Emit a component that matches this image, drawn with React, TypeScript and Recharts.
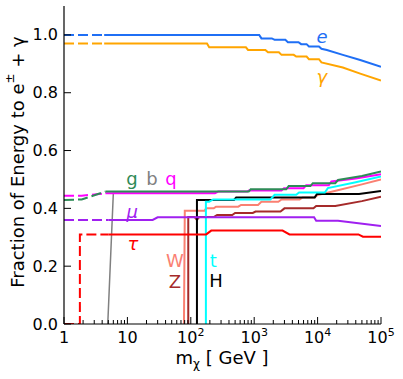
import React from 'react';
import { LineChart, Line, XAxis, YAxis, ReferenceDot, Label } from 'recharts';

const FONT = '"DejaVu Sans", sans-serif';

const X_MAJOR = [1, 10, 100, 1000, 10000, 100000];
const X_MINOR = X_MAJOR.slice(0, -1).flatMap(d => [2, 3, 4, 5, 6, 7, 8, 9].map(k => d * k));
const X_TICKS = [...X_MAJOR, ...X_MINOR].sort((a, b) => a - b);
const Y_TICKS = [0, 0.2, 0.4, 0.6, 0.8, 1.0];

// [m_chi (GeV), fraction of energy]
const E_DASH = [[1, 1.0], [4.3, 1.0]];
const E_SOLID = [[4.3, 1.0], [1200, 1.0], [1300, 0.988], [1900, 0.988], [2100, 0.983], [3100, 0.983], [3400, 0.975], [5000, 0.975], [5500, 0.968], [6700, 0.968], [7300, 0.96], [10500, 0.96], [11500, 0.952], [14000, 0.948], [25000, 0.931], [47000, 0.913], [100000, 0.89]];
const G_DASH = [[1, 0.97], [4.3, 0.97]];
const G_SOLID = [[4.3, 0.97], [180, 0.97], [195, 0.957], [740, 0.957], [800, 0.948], [1500, 0.948], [1650, 0.94], [2450, 0.94], [2700, 0.931], [4200, 0.931], [4600, 0.925], [6700, 0.925], [7300, 0.916], [10500, 0.916], [11500, 0.905], [25000, 0.887], [47000, 0.866], [100000, 0.842]];
const GLU_DASH = [[1, 0.429], [1.9, 0.431], [4.5, 0.458]];
const GLU_SOLID = [[4.5, 0.458], [820, 0.458], [880, 0.466], [3200, 0.466], [3500, 0.477], [7700, 0.477], [8400, 0.487], [19000, 0.487], [21000, 0.498], [50000, 0.512], [100000, 0.528]];
const Q_DASH = [[1, 0.444], [1.9, 0.444], [4.5, 0.452]];
const Q_SOLID = [[4.5, 0.452], [240, 0.452], [270, 0.458], [780, 0.458], [820, 0.462], [2700, 0.462], [2950, 0.47], [6000, 0.47], [6600, 0.48], [15000, 0.48], [16500, 0.493], [40000, 0.503], [100000, 0.518]];
const B_SOLID = [[4.9, 0], [6, 0.452], [240, 0.452]];
const MU_DASH = [[1, 0.36], [5, 0.36]];
const MU_SOLID = [[5, 0.36], [25, 0.36], [30, 0.369], [8800, 0.369], [9500, 0.357], [21000, 0.357], [100000, 0.339]];
const TAU_DASH = [[1, 0], [1.78, 0], [1.78, 0.31], [5, 0.31]];
const TAU_SOLID = [[5, 0.31], [175, 0.31], [210, 0.323], [2800, 0.323], [3600, 0.31], [44000, 0.31], [52000, 0.302], [100000, 0.302]];
const W_SOLID = [[78, 0], [80.4, 0.392], [165, 0.392], [175, 0.4], [230, 0.4], [250, 0.406], [560, 0.406], [620, 0.412], [1150, 0.412], [1300, 0.423], [2400, 0.423], [2700, 0.431], [5200, 0.431], [5800, 0.438], [9000, 0.438], [10000, 0.446], [20000, 0.462], [50000, 0.483], [100000, 0.5]];
const Z_SOLID = [[91.2, 0], [91.2, 0.37], [115, 0.37], [125, 0.36], [135, 0.37], [230, 0.37], [260, 0.377], [450, 0.377], [500, 0.384], [950, 0.384], [1050, 0.389], [2600, 0.389], [3000, 0.4], [8600, 0.4], [9500, 0.408], [19000, 0.408], [50000, 0.425], [100000, 0.44]];
const H_SOLID = [[125, 0], [125, 0.429], [480, 0.429], [520, 0.438], [9000, 0.438], [9800, 0.45], [45000, 0.45], [100000, 0.46]];
const T_SOLID = [[173, 0], [173, 0.423], [195, 0.423], [225, 0.431], [1800, 0.431], [2100, 0.447], [4600, 0.447], [5100, 0.455], [13000, 0.455], [14500, 0.47], [40000, 0.49], [100000, 0.51]];

const pts = (arr: number[][]) => arr.map(([m, v]) => ({ m, v }));

const SERIES = [
  { id: 'b', data: B_SOLID, color: '#808080', width: 1.5 },
  { id: 'W', data: W_SOLID, color: '#fa8072' },
  { id: 'Z', data: Z_SOLID, color: '#a52a2a' },
  { id: 'H', data: H_SOLID, color: '#000000' },
  { id: 't', data: T_SOLID, color: '#00ffff' },
  { id: 'tau-d', data: TAU_DASH, color: '#ff0000', dash: true },
  { id: 'tau', data: TAU_SOLID, color: '#ff0000' },
  { id: 'mu-d', data: MU_DASH, color: '#a020f0', dash: true },
  { id: 'mu', data: MU_SOLID, color: '#a020f0' },
  { id: 'q-d', data: Q_DASH, color: '#ff00ff', dash: true },
  { id: 'q', data: Q_SOLID, color: '#ff00ff' },
  { id: 'g-d', data: GLU_DASH, color: '#2e8b57', dash: true },
  { id: 'g', data: GLU_SOLID, color: '#2e8b57' },
  { id: 'gam-d', data: G_DASH, color: '#ffa500', dash: true },
  { id: 'gam', data: G_SOLID, color: '#ffa500' },
  { id: 'e-d', data: E_DASH, color: '#1f6ff5', dash: true },
  { id: 'e', data: E_SOLID, color: '#1f6ff5' },
];

const LABELS = [
  { text: 'e', m: 11700, v: 0.993, color: '#1f6ff5', italic: true },
  { text: 'γ', m: 11700, v: 0.855, color: '#ffa500', italic: true },
  { text: 'g', m: 11.8, v: 0.502, color: '#2e8b57' },
  { text: 'b', m: 24.4, v: 0.502, color: '#808080' },
  { text: 'q', m: 48.7, v: 0.502, color: '#ff00ff' },
  { text: 'μ', m: 11.9, v: 0.389, color: '#a020f0', italic: true },
  { text: 'τ', m: 12.2, v: 0.277, color: '#ff0000', italic: true },
  { text: 'W', m: 56, v: 0.221, color: '#fa8072' },
  { text: 'Z', m: 56, v: 0.146, color: '#a52a2a' },
  { text: 't', m: 226, v: 0.221, color: '#00ffff' },
  { text: 'H', m: 251, v: 0.15, color: '#000000' },
];

const isMajor = (v: number) => X_MAJOR.includes(v);

const BottomTick = (props: any) => {
  const { x, y, payload } = props;
  const v = payload.value;
  const major = isMajor(v);
  const len = major ? 7 : 4;
  const p = Math.round(Math.log10(v));
  return (
    <g>
      <line x1={x} y1={y} x2={x} y2={y - len} stroke="#000" strokeWidth={1} />
      {major && (
        <text x={x} y={y + 19} textAnchor="middle" fontFamily={FONT} fontSize={16} fill="#000">
          {p < 2 ? String(v) : (<><tspan>10</tspan><tspan dy={-7} fontSize={11}>{p}</tspan></>)}
        </text>
      )}
    </g>
  );
};

const TopTick = (props: any) => {
  const { x, y, payload } = props;
  const len = isMajor(payload.value) ? 7 : 4;
  return <line x1={x} y1={y} x2={x} y2={y + len} stroke="#000" strokeWidth={1} />;
};

const LeftTick = (props: any) => {
  const { x, y, payload } = props;
  return (
    <g>
      <line x1={x} y1={y} x2={x + 7} y2={y} stroke="#000" strokeWidth={1} />
      <text x={x - 6} y={y} textAnchor="end" dominantBaseline="central" fontFamily={FONT} fontSize={16} fill="#000">
        {payload.value.toFixed(1)}
      </text>
    </g>
  );
};

const RightTick = (props: any) => {
  const { x, y } = props;
  return <line x1={x} y1={y} x2={x - 7} y2={y} stroke="#000" strokeWidth={1} />;
};

const YTitle = () => {
  const cx = 17;
  const cy = 162;
  return (
    <text x={cx} y={cy} transform={`rotate(-90 ${cx} ${cy})`} textAnchor="middle" dominantBaseline="central" fontFamily={FONT} fontSize={18} fill="#000">
      Fraction of Energy to e<tspan dy={-7} fontSize={12}>±</tspan><tspan dy={7}> + γ</tspan>
    </text>
  );
};

const XTitle = () => (
  <text x={222} y={364} textAnchor="middle" fontFamily={FONT} fontSize={18} fill="#000">
    m<tspan dy={4} fontSize={12}>χ</tspan><tspan dy={-4}>  [ GeV ]</tspan>
  </text>
);

export default function App() {
  return (
    <div style={{ position: 'absolute', left: 0, top: 0, width: 403, height: 379, background: '#fff' }}>
      <LineChart width={403} height={379} margin={{ top: 6, right: 22, bottom: 0, left: 0 }}>
        <XAxis
          xAxisId={0}
          dataKey="m"
          type="number"
          scale="log"
          domain={[1, 100000]}
          allowDataOverflow
          ticks={X_TICKS}
          interval={0}
          tickSize={0}
          tickMargin={0}
          tickLine={false}
          tick={<BottomTick />}
          height={55}
          axisLine={{ stroke: '#000', strokeWidth: 1.2 }}
        >
          <Label content={<XTitle />} />
        </XAxis>
        <XAxis
          xAxisId="top"
          orientation="top"
          type="number"
          scale="log"
          domain={[1, 100000]}
          allowDataOverflow
          ticks={X_TICKS}
          interval={0}
          tickSize={0}
          tickMargin={0}
          tickLine={false}
          tick={<TopTick />}
          height={0}
          axisLine={{ stroke: '#000', strokeWidth: 1.2 }}
        />
        <YAxis
          yAxisId={0}
          type="number"
          domain={[0, 1.1]}
          allowDataOverflow
          ticks={Y_TICKS}
          interval={0}
          tickSize={0}
          tickMargin={0}
          tickLine={false}
          tick={<LeftTick />}
          width={64}
          axisLine={{ stroke: '#000', strokeWidth: 1.2 }}
        >
          <Label content={<YTitle />} />
        </YAxis>
        <YAxis
          yAxisId="right"
          orientation="right"
          type="number"
          domain={[0, 1.1]}
          allowDataOverflow
          ticks={Y_TICKS}
          interval={0}
          tickSize={0}
          tickMargin={0}
          tickLine={false}
          tick={<RightTick />}
          width={0}
          axisLine={{ stroke: '#000', strokeWidth: 1.2 }}
        />
        {SERIES.map(s => (
          <Line
            key={s.id}
            name={s.id}
            data={pts(s.data)}
            dataKey="v"
            type="linear"
            stroke={s.color}
            strokeWidth={s.width ?? 2}
            strokeDasharray={s.dash ? '10 4' : undefined}
            dot={false}
            activeDot={false}
            isAnimationActive={false}
          />
        ))}
        {LABELS.map(l => (
          <ReferenceDot
            key={l.text}
            x={l.m}
            y={l.v}
            r={0}
            ifOverflow="visible"
            shape={(p: any) => (
              <text
                x={p.cx}
                y={p.cy}
                textAnchor="middle"
                dominantBaseline="central"
                fontFamily={FONT}
                fontSize={18}
                fontStyle={l.italic ? 'italic' : 'normal'}
                fill={l.color}
              >
                {l.text}
              </text>
            )}
          />
        ))}
      </LineChart>
    </div>
  );
}
